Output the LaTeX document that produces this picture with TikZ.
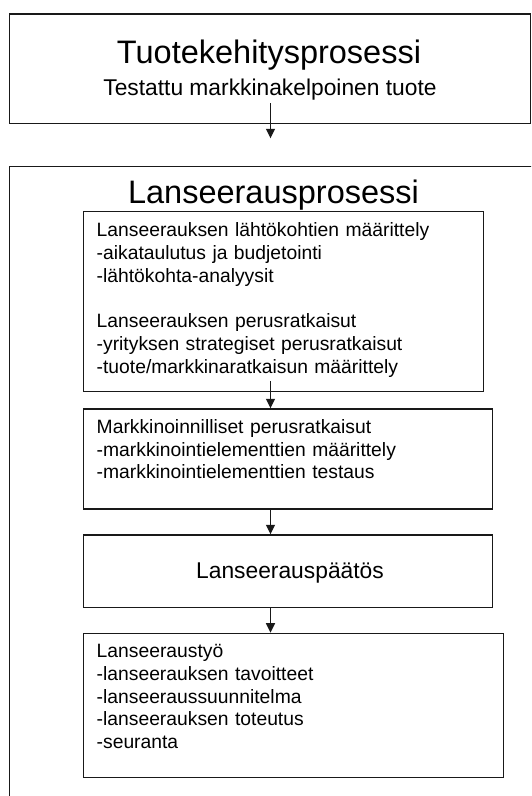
\documentclass[tikz,border=0pt]{standalone}
\usepackage{fontspec}
\setmainfont{Liberation Sans}
\usetikzlibrary{arrows.meta}
\tikzset{
	box/.style={draw=black!90, line width=1.3pt, inner sep=0pt, anchor=north west},
	head/.style={anchor=base, inner sep=0pt, font=\fontsize{32.5}{39}\selectfont},
	sub/.style={anchor=base, inner sep=0pt, font=\fontsize{22.8}{27}\selectfont},
	txt/.style={anchor=base west, inner sep=0pt, align=left, text width=390pt, font=\fontsize{19.3}{22.7}\selectfont},
	arr/.style={draw=black!90, line width=1.3pt, -{Triangle[length=9.5pt,width=9pt]}}
}
\begin{document}
\begin{tikzpicture}[x=1pt,y=-1pt]
			%%%%% START %%%%%
			\useasboundingbox (0,0) rectangle (531,796);
			\clip (0,0) rectangle (531,796);
			
			\node[box, minimum width=521.5pt, minimum height=109.4pt] (tuote) at (8.5,13.3) {};
			\node[head] (tuoteh) at (269,63.3) {Tuotekehitysprosessi};
			\node[sub, inner ysep=2.5pt] (testattu) at (270,95.7) {Testattu markkinakelpoinen tuote};
			\coordinate (ax) at (270.5,138.3);
			
			\node[box, minimum width=560pt, minimum height=660pt] (lans) at (8.5,165.7) {};
			\node[head] (lansh) at (273.5,203.3) {Lanseerausprosessi};
			
			\node[box, minimum width=399.5pt, minimum height=180pt] (b1) at (83,210.7) {};
			\node[txt] (t1) at (96.5,236.8) {Lanseerauksen lähtökohtien määrittely\\-aikataulutus ja budjetointi\\-lähtökohta-analyysit\\[22.7pt]Lanseerauksen perusratkaisut\\-yrityksen strategiset perusratkaisut\\-tuote/markkinaratkaisun määrittely};
			
			\node[box, minimum width=408.7pt, minimum height=100pt] (b2) at (83,408.3) {};
			\node[txt] (t2) at (96.5,433.3) {Markkinoinnilliset perusratkaisut\\-markkinointielementtien määrittely\\-markkinointielementtien testaus};
			
			\node[box, minimum width=408.7pt, minimum height=72.4pt] (b3) at (83,534.3) {};
			\node[sub] (t3) at (290,578.3) {Lanseerauspäätös};
			
			\node[box, minimum width=419.5pt, minimum height=144.3pt] (b4) at (83,632.7) {};
			\node[txt] (t4) at (96.5,657.7) {Lanseeraustyö\\-lanseerauksen tavoitteet\\-lanseeraussuunnitelma\\-lanseerauksen toteutus\\-seuranta};
			
			\draw[arr] (testattu.south -| ax) -- (ax);
			\draw[arr] ([yshift=-4pt]t1.south -| ax) -- (b2.north -| ax);
			\draw[arr] (b2.south -| ax) -- (b3.north -| ax);
			\draw[arr] (b3.south -| ax) -- (b4.north -| ax);
			
			%%%%% END %%%%%
\end{tikzpicture}
\end{document}
